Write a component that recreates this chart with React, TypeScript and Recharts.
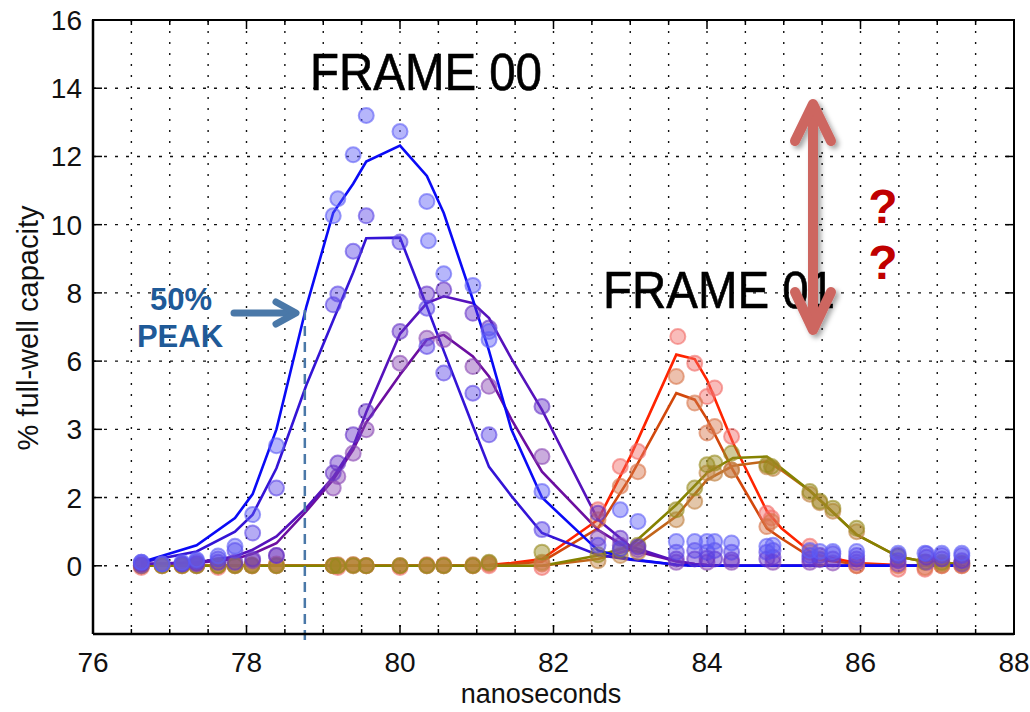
import React from 'react';
import { ComposedChart, Line, Scatter, XAxis, YAxis, CartesianGrid, ReferenceLine } from 'recharts';

const FONT = '"Liberation Sans", Arial, Helvetica, sans-serif';

// ---- axes ----
const xTicks = [76, 76.5, 77, 77.5, 78, 78.5, 79, 79.5, 80, 80.5, 81, 81.5, 82, 82.5, 83, 83.5, 84, 84.5, 85, 85.5, 86, 86.5, 87, 87.5, 88];
const xLabelTicks = [76, 78, 80, 82, 84, 86, 88];
const yTicks = [0, 2, 4, 6, 8, 10, 12, 14, 16];
const yTickLabels = ['0', '2', '3', '6', '8', '10', '12', '14', '16'];
const xDomain = [76, 88];
const yDomain = [-2, 16];
const halfPeakTime = 78.76;

// ---- fitted curves (shared time samples) ----
const lineTimes = [76.63, 77.35, 77.85, 78.08, 78.39, 78.78, 79.13, 79.39, 79.56, 80.0, 80.35, 80.57, 80.95, 81.16, 81.45, 81.85, 82.58, 83.0, 83.6, 83.84, 84.0, 84.34, 84.78, 84.97, 85.34, 85.47, 85.95, 86.49, 86.86, 87.32];
const blueFitA = [0.1, 0.6, 1.4, 2.1, 4.0, 7.6, 10.35, 11.2, 11.85, 12.32, 11.43, 10.34, 7.8, 6.3, 4.0, 2.0, 0.45, 0.2, 0.03, 0, 0, 0, 0, 0, 0, 0, 0, 0, 0, 0];
const blueFitB = [0.1, 0.42, 1.0, 1.5, 2.86, 5.3, 7.2, 8.6, 9.6, 9.62, 7.6, 6.3, 4.1, 2.9, 2.05, 0.96, 0.32, 0.18, 0.03, 0, 0, 0, 0, 0, 0, 0, 0, 0, 0, 0];
const purpleFitA = [0.05, 0.1, 0.27, 0.47, 0.86, 1.7, 2.6, 3.5, 4.5, 6.8, 7.7, 7.9, 7.7, 7.26, 6.08, 4.57, 1.35, 0.57, 0.13, 0.05, 0.02, 0, 0, 0, 0, 0, 0, 0, 0, 0];
const purpleFitB = [0.05, 0.08, 0.2, 0.35, 0.66, 1.6, 2.52, 3.4, 4.2, 5.6, 6.63, 6.77, 6.14, 5.55, 4.3, 2.76, 1.05, 0.47, 0.13, 0.05, 0.02, 0, 0, 0, 0, 0, 0, 0, 0, 0];
const redFit = [0, 0, 0, 0, 0, 0, 0, 0, 0, 0, 0, 0, 0, 0.02, 0.08, 0.2, 1.35, 3.2, 6.19, 6.06, 5.45, 3.6, 1.6, 1.1, 0.42, 0.3, 0.08, 0.02, 0, 0];
const orangeFit = [0, 0, 0, 0, 0, 0, 0, 0, 0, 0, 0, 0, 0, 0.01, 0.05, 0.12, 1.1, 2.6, 5.06, 4.87, 4.3, 2.8, 1.1, 0.8, 0.27, 0.18, 0.05, 0, 0, 0];
const oliveFit = [0, 0, 0, 0, 0, 0, 0, 0, 0, 0, 0, 0, 0, 0, 0, 0, 0.3, 0.57, 1.79, 2.35, 2.72, 3.16, 3.2, 2.86, 2.2, 1.93, 0.91, 0.27, 0.11, 0.05];
const tanFit = [0, 0, 0, 0, 0, 0, 0, 0, 0, 0, 0, 0, 0, 0, 0, 0, 0.2, 0.47, 1.45, 2.1, 2.52, 2.93, 3.06, 2.8, 2.2, 1.93, 0.91, 0.27, 0.11, 0.05];

// ---- measured points ----
type Pt = [number, number];
const blueDotsA: Pt[] = [[76.63, 0.1], [76.9, 0.05], [77.16, 0.1], [77.35, 0.18], [77.63, 0.29], [77.85, 0.57], [78.08, 1.5], [78.39, 3.52], [79.13, 10.26], [79.19, 10.76], [79.39, 12.05], [79.56, 13.2], [80.0, 12.73], [80.35, 10.68], [80.37, 9.53], [80.57, 8.56], [80.95, 8.22], [81.16, 6.87], [81.16, 6.63], [81.85, 2.18], [82.87, 1.64], [83.1, 1.3], [83.6, 0.71], [83.84, 0.71], [84.0, 0.71], [84.1, 0.71], [84.32, 0.67], [84.78, 0.57], [84.86, 0.6], [85.34, 0.45], [85.47, 0.42], [85.64, 0.42], [85.95, 0.42], [86.49, 0.37], [86.84, 0.37], [87.06, 0.37], [87.32, 0.37]];
const blueDotsB: Pt[] = [[76.63, 0.1], [76.9, 0.05], [77.16, 0.05], [77.35, 0.13], [77.63, 0.2], [77.85, 0.45], [78.08, 0.96], [78.39, 2.28], [79.13, 7.65], [79.19, 7.97], [79.39, 9.22], [79.56, 10.26], [80.0, 9.49], [80.35, 7.55], [80.35, 6.43], [80.57, 5.65], [80.95, 5.06], [81.16, 3.84], [81.85, 1.06], [82.58, 0.6], [82.87, 0.5], [83.6, 0.4], [83.84, 0.45], [84.0, 0.4], [84.1, 0.45], [84.32, 0.4], [84.78, 0.4], [84.86, 0.45], [85.34, 0.3], [85.47, 0.3], [85.64, 0.35], [85.95, 0.3], [86.49, 0.3], [86.86, 0.35], [87.06, 0.3], [87.32, 0.3]];
const purpleDotsA: Pt[] = [[76.63, 0.05], [77.16, 0.05], [77.35, 0.08], [77.63, 0.1], [77.85, 0.1], [78.08, 0.2], [78.39, 0.3], [79.13, 2.72], [79.19, 3.01], [79.39, 3.84], [79.56, 4.52], [80.0, 6.87], [80.35, 7.97], [80.57, 8.09], [80.95, 7.4], [81.16, 6.97], [81.85, 4.67], [82.58, 1.54], [82.87, 0.81], [83.1, 0.55], [83.6, 0.2], [83.84, 0.2], [84.0, 0.22], [84.1, 0.2], [84.32, 0.18], [84.78, 0.2], [84.86, 0.25], [85.34, 0.2], [85.47, 0.18], [85.64, 0.2], [85.95, 0.2], [86.49, 0.15], [86.86, 0.25], [87.06, 0.2], [87.32, 0.15]];
const purpleDotsB: Pt[] = [[76.63, 0.0], [77.35, 0.05], [78.08, 0.15], [78.39, 0.3], [79.13, 2.28], [79.19, 2.62], [79.39, 3.3], [79.56, 3.99], [80.0, 5.94], [80.35, 6.67], [80.57, 6.63], [80.95, 5.84], [81.16, 5.26], [81.85, 3.2], [82.58, 0.81], [82.87, 0.6], [83.1, 0.47], [83.6, 0.1], [84.0, 0.1], [84.32, 0.1], [84.86, 0.1], [85.34, 0.1], [85.64, 0.08], [85.95, 0.1], [86.49, 0.05], [86.86, 0.1], [87.32, 0.05]];

const earlyTimes = [76.63, 76.9, 77.16, 77.35, 77.63, 77.85, 78.07, 78.39, 79.13, 79.19, 79.39, 79.56, 80.0, 80.35, 80.57, 80.95, 81.16, 81.85];
const redEarly = [-0.05, 0, 0, 0, -0.05, 0, 0, 0, 0, -0.05, 0, 0, -0.05, 0, 0, 0, 0, -0.05];
const orangeEarly = [0, 0.03, 0, 0.03, 0, 0.03, 0, 0.05, 0, 0.03, 0.03, 0, 0, 0.03, 0.03, 0, 0.05, 0.05];
const oliveEarly = [0, 0, 0, 0, 0, 0, 0, 0, 0, 0, 0, 0, 0, 0, 0, 0, 0.1, 0.4];
const tanEarly = [0, 0, 0.03, 0, 0, 0, 0.03, 0, 0, 0, 0.03, 0, 0, 0, 0, 0.03, 0.08, 0.1];
const redLate: Pt[] = [[82.58, 1.64], [82.87, 2.91], [83.1, 3.35], [83.62, 6.72], [83.84, 5.94], [84.0, 4.96], [84.1, 5.21], [84.32, 3.79], [84.78, 1.54], [84.84, 1.4], [85.34, 0.57], [85.47, 0.3], [85.95, 0.0], [86.49, -0.1], [86.84, -0.1], [87.06, 0], [87.32, 0]];
const orangeLate: Pt[] = [[82.58, 1.35], [82.87, 2.33], [83.1, 2.76], [83.6, 5.55], [83.84, 4.77], [84.0, 3.89], [84.1, 4.08], [84.32, 2.81], [84.78, 1.15], [84.84, 1.3], [85.34, 0.4], [85.47, 0.2], [85.95, 0], [86.49, 0], [86.84, -0.05], [87.06, 0], [87.32, 0]];
const oliveLate: Pt[] = [[82.58, 0.32], [82.87, 0.47], [83.1, 0.6], [83.6, 1.64], [83.84, 2.28], [84.0, 2.96], [84.1, 3.01], [84.32, 3.3], [84.78, 2.96], [84.84, 2.91], [85.34, 2.18], [85.47, 1.89], [85.64, 1.69], [85.95, 1.1], [86.49, 0.27], [86.84, 0.11], [87.06, 0.1], [87.32, 0.08]];
const tanLate: Pt[] = [[82.58, 0.15], [82.87, 0.3], [83.1, 0.4], [83.6, 1.35], [83.84, 1.89], [84.0, 2.72], [84.1, 2.71], [84.32, 2.81], [84.78, 2.9], [84.86, 2.85], [85.34, 2.1], [85.47, 1.85], [85.64, 1.6], [85.95, 1.0], [86.49, 0.3], [86.84, 0.1], [87.06, 0.05], [87.32, 0.05]];

const toLine = (vals: number[]) => lineTimes.map((x, i) => ({ x, y: vals[i] }));
const toDots = (pts: Pt[]) => pts.map(([x, y]) => ({ x, y }));
const withEarly = (early: number[], late: Pt[]) => [
  ...earlyTimes.map((x, i) => ({ x, y: early[i] })),
  ...toDots(late),
];

// drawing order: first entries drawn first (underneath)
const series = [
  { key: 'red', fit: redFit, dots: withEarly(redEarly, redLate), line: '#ff2400', dot: '#f26a66' },
  { key: 'orange', fit: orangeFit, dots: withEarly(orangeEarly, orangeLate), line: '#d2480c', dot: '#d8744a' },
  { key: 'tan', fit: tanFit, dots: withEarly(tanEarly, tanLate), line: '#c2651a', dot: '#c08040' },
  { key: 'olive', fit: oliveFit, dots: withEarly(oliveEarly, oliveLate), line: '#858200', dot: '#968a1c' },
  { key: 'purpleB', fit: purpleFitB, dots: toDots(purpleDotsB), line: '#6c0ea0', dot: '#8a48b4' },
  { key: 'purpleA', fit: purpleFitA, dots: toDots(purpleDotsA), line: '#5612bc', dot: '#6632c8' },
  { key: 'blueB', fit: blueFitB, dots: toDots(blueDotsB), line: '#3414d6', dot: '#5a44e6' },
  { key: 'blueA', fit: blueFitA, dots: toDots(blueDotsA), line: '#0a0af6', dot: '#5e5ef6' },
];

// ---- layout ----
const W = 1030;
const H = 712;
const PLOT = { left: 93, top: 20, width: 921, height: 614 };
const PLOT_RIGHT = PLOT.left + PLOT.width;
const PLOT_BOTTOM = PLOT.top + PLOT.height;
const FRAME_W = 2.5;

const makeDot = (color: string) => (p: any) => (
  <circle cx={p.cx} cy={p.cy} r={7.5} fill={color} fillOpacity={0.45} stroke={color} strokeOpacity={0.6} strokeWidth={2} />
);

// bottom ticks (inward), mirrored inward ticks on the top frame edge, and labels
function BottomTick(props: any) {
  const { x, y, payload } = props;
  const v = payload.value;
  const major = xLabelTicks.includes(v);
  const len = major ? 9 : 5;
  const topY = y - PLOT.height;
  return (
    <g>
      <line x1={x} x2={x} y1={y} y2={y - len} stroke="#000" strokeWidth={1.5} />
      <line x1={x} x2={x} y1={topY} y2={topY + len} stroke="#000" strokeWidth={1.5} />
      {major && (
        <text x={x} y={y + 38} textAnchor="middle" fontSize={28} fontFamily={FONT} fill="#111">{String(v)}</text>
      )}
    </g>
  );
}

// left ticks (inward), mirrored inward ticks on the right frame edge, and labels
function LeftTick(props: any) {
  const { x, y, payload } = props;
  const idx = yTicks.indexOf(payload.value);
  const rightX = x + PLOT.width;
  return (
    <g>
      <line x1={x} x2={x + 9} y1={y} y2={y} stroke="#000" strokeWidth={1.5} />
      <line x1={rightX - 9} x2={rightX} y1={y} y2={y} stroke="#000" strokeWidth={1.5} />
      <text x={x - 11} y={y + 10} textAnchor="end" fontSize={28} fontFamily={FONT} fill="#111">{yTickLabels[idx]}</text>
    </g>
  );
}

const axisLine = { stroke: '#000', strokeWidth: FRAME_W };

export default function App() {
  return (
    <div style={{ position: 'absolute', left: 0, top: 0, width: W, height: H, background: '#fff' }}>
      <ComposedChart
        width={W}
        height={H}
        margin={{ top: PLOT.top, right: W - PLOT_RIGHT, bottom: 0, left: 0 }}
      >
        <CartesianGrid horizontal={false} stroke="#111" strokeWidth={1.4} strokeDasharray="2 9" />
        <CartesianGrid vertical={false} stroke="#111" strokeWidth={1.4} strokeDasharray="3 8" />
        <XAxis
          dataKey="x"
          type="number"
          domain={xDomain}
          ticks={xTicks}
          interval={0}
          height={H - PLOT_BOTTOM}
          tickSize={0}
          tickMargin={0}
          tickLine={false}
          axisLine={axisLine}
          tick={<BottomTick />}
          allowDataOverflow
        />
        <YAxis
          dataKey="y"
          type="number"
          domain={yDomain}
          ticks={yTicks}
          interval={0}
          width={PLOT.left}
          tickSize={0}
          tickMargin={0}
          tickLine={false}
          axisLine={axisLine}
          tick={<LeftTick />}
          allowDataOverflow
        />
        {series.map((s) => (
          <Scatter key={'d' + s.key} data={s.dots} shape={makeDot(s.dot)} isAnimationActive={false} />
        ))}
        {series.map((s) => (
          <Line
            key={'l' + s.key}
            data={toLine(s.fit)}
            dataKey="y"
            type="linear"
            stroke={s.line}
            strokeWidth={2.6}
            dot={false}
            activeDot={false}
            isAnimationActive={false}
          />
        ))}
        <ReferenceLine
          segment={[{ x: halfPeakTime, y: 7.5 }, { x: halfPeakTime, y: -2.2 }]}
          stroke="#4a78a8"
          strokeWidth={2.5}
          strokeDasharray="10 6"
          ifOverflow="visible"
        />
      </ComposedChart>
      {/* plot frame: top and right edges */}
      <div
        style={{
          position: 'absolute',
          left: PLOT.left - FRAME_W / 2,
          top: PLOT.top - FRAME_W / 2,
          width: PLOT.width,
          height: PLOT.height,
          borderTop: `${FRAME_W}px solid #000`,
          borderRight: `${FRAME_W}px solid #000`,
          boxSizing: 'content-box',
          pointerEvents: 'none',
        }}
      />
      <svg width={W} height={H} style={{ position: 'absolute', left: 0, top: 0, pointerEvents: 'none' }}>
        <defs>
          <filter id="shadow" x="-50%" y="-20%" width="200%" height="140%">
            <feDropShadow dx="3" dy="3" stdDeviation="2.5" floodColor="#000" floodOpacity="0.35" />
          </filter>
        </defs>
        <text x={28} y={328} transform="rotate(-90 28 328)" textAnchor="middle" dominantBaseline="central" fontSize={29} fontFamily={FONT} fill="#111">% full-well capacity</text>
        <text x={541} y={703} textAnchor="middle" fontSize={27} fontFamily={FONT} fill="#111">nanoseconds</text>
        <text x={310} y={90} fontSize={51} fontFamily={FONT} fill="#000" stroke="#000" strokeWidth={0.6} textLength={232} lengthAdjust="spacingAndGlyphs">FRAME 00</text>
        <text x={603} y={308} fontSize={51} fontFamily={FONT} fill="#000" stroke="#000" strokeWidth={0.6} textLength={232} lengthAdjust="spacingAndGlyphs">FRAME 01</text>
        <g filter="url(#shadow)" stroke="#cd6661" strokeWidth={10} strokeLinecap="round" strokeLinejoin="round" fill="none">
          <line x1={813} y1={108} x2={813} y2={326} />
          <polyline points="795,141 813,104 831,141" />
          <polyline points="795,292 813,330 831,292" />
        </g>
        <text x={883} y={223} textAnchor="middle" fontSize={48} fontWeight="bold" fontFamily={FONT} fill="#c00000">?</text>
        <text x={883} y={279} textAnchor="middle" fontSize={48} fontWeight="bold" fontFamily={FONT} fill="#c00000">?</text>
        <text x={181} y={310} textAnchor="middle" fontSize={31} fontWeight="bold" fontFamily={FONT} fill="#1f5a98">50%</text>
        <text x={180} y={347} textAnchor="middle" fontSize={31} fontWeight="bold" fontFamily={FONT} fill="#1f5a98">PEAK</text>
        <g stroke="#4a78a8" strokeWidth={7} strokeLinecap="round" strokeLinejoin="round" fill="none">
          <line x1={234} y1={313} x2={294} y2={313} />
          <polyline points="276,302 296,313 276,324" />
        </g>
      </svg>
    </div>
  );
}
